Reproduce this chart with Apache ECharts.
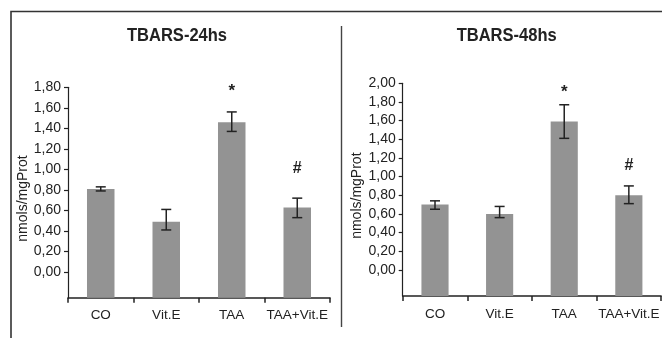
<!DOCTYPE html>
<html>
<head>
<meta charset="utf-8">
<script src="https://cdn.jsdelivr.net/npm/echarts@6/dist/echarts.min.js"></script>
<style>html,body{margin:0;padding:0;background:#fff}#c{width:662px;height:338px}</style>
</head>
<body>
<div id="c"></div>
<script>
// ---- data ----
const categories = ['CO', 'Vit.E', 'TAA', 'TAA+Vit.E'];
const yTicks24 = [0, 0.2, 0.4, 0.6, 0.8, 1.0, 1.2, 1.4, 1.6, 1.8];
const yTicks48 = [0, 0.2, 0.4, 0.6, 0.8, 1.0, 1.2, 1.4, 1.6, 1.8, 2.0];
const mean24 = [0.81, 0.49, 1.46, 0.63];
const errLow24 = [0.79, 0.41, 1.37, 0.53];
const errHigh24 = [0.83, 0.61, 1.56, 0.72];
const mean48 = [0.70, 0.60, 1.59, 0.80];
const errLow48 = [0.65, 0.56, 1.41, 0.71];
const errHigh48 = [0.74, 0.68, 1.77, 0.90];
const marks = ['', '', '*', '#'];
const titles = ['TBARS-24hs', 'TBARS-48hs'];
const yName = 'nmols/mgProt';

// ---- style ----
const ink = '#222';
const barColor = '#939393';
const fontFam = '"Liberation Sans", Arial, sans-serif';
const fmt = v => v.toFixed(2).replace('.', ',');

const panels = [
  {mean: mean24, lo: errLow24, hi: errHigh24, ticks: yTicks24, min: -0.25, max: 1.8,
   grid: {left: 68, right: 332, top: 87.3, bottom: 40.3}, titleX: 177, starOff: 21, hashOff: 30},
  {mean: mean48, lo: errLow48, hi: errHigh48, ticks: yTicks48, min: -0.28, max: 2.0,
   grid: {left: 402.7, right: -3.5, top: 83.3, bottom: 42}, titleX: 506.7, starOff: 12, hashOff: 20}
];

const chart = echarts.init(document.getElementById('c'), null, {renderer: 'canvas'});
const grid = [], xAxis = [], yAxis = [], series = [], graphic = [];

panels.forEach((p, k) => {
  grid.push(Object.assign({containLabel: false}, p.grid));
  graphic.push({type: 'text', x: p.titleX, y: 35.5, scaleX: 0.87, z: 10,
    style: {text: titles[k], fontFamily: fontFam, fontWeight: 'bold', fontSize: 19, fill: ink,
      align: 'center', verticalAlign: 'middle'}});
  xAxis.push({type: 'category', gridIndex: k, data: categories, boundaryGap: true,
    axisLine: {onZero: false, lineStyle: {color: ink, width: 1.5}},
    axisTick: {show: true, length: 5, interval: 0, lineStyle: {color: ink, width: 1.5}},
    axisLabel: {color: ink, fontSize: 13.5, fontFamily: fontFam, margin: 11, interval: 0}});
  yAxis.push({type: 'value', gridIndex: k, min: p.min, max: p.max,
    name: yName, nameLocation: 'middle', nameGap: 38,
    nameTextStyle: {color: ink, fontSize: 14, fontFamily: fontFam, padding: [0, 12, 0, 0]},
    splitLine: {show: false},
    axisLine: {show: true, lineStyle: {color: ink, width: 1.2}},
    axisTick: {show: true, length: 4, customValues: p.ticks, lineStyle: {color: ink, width: 1.2}},
    axisLabel: {color: ink, fontSize: 14, fontFamily: fontFam, margin: 7, customValues: p.ticks, formatter: fmt}});

  // bars (drawn from the bottom of the axis, as in the original)
  series.push({type: 'custom', xAxisIndex: k, yAxisIndex: k,
    data: categories.map((c, i) => [i, p.mean[i]]),
    renderItem: (params, api) => {
      const top = api.coord([api.value(0), api.value(1)]);
      const cs = params.coordSys;
      const w = api.size([1, 0])[0] * 0.42;
      return {type: 'rect', shape: {x: top[0] - w / 2, y: top[1], width: w, height: cs.y + cs.height - top[1]},
        style: {fill: barColor}};
    }, z: 2});
  // error bars
  series.push({type: 'custom', xAxisIndex: k, yAxisIndex: k,
    data: categories.map((c, i) => [i, p.lo[i], p.hi[i]]),
    renderItem: (params, api) => {
      const a = api.coord([api.value(0), api.value(1)]);
      const b = api.coord([api.value(0), api.value(2)]);
      const cw = 5;
      const st = {stroke: ink, lineWidth: 1.5};
      return {type: 'group', children: [
        {type: 'line', shape: {x1: a[0], y1: a[1], x2: b[0], y2: b[1]}, style: st},
        {type: 'line', shape: {x1: a[0] - cw, y1: a[1], x2: a[0] + cw, y2: a[1]}, style: st},
        {type: 'line', shape: {x1: b[0] - cw, y1: b[1], x2: b[0] + cw, y2: b[1]}, style: st}
      ]};
    }, z: 3});
  // significance marks
  series.push({type: 'custom', xAxisIndex: k, yAxisIndex: k,
    data: categories.map((c, i) => [i, p.hi[i]]),
    renderItem: (params, api) => {
      const m = marks[params.dataIndex];
      if (!m) return null;
      const b = api.coord([api.value(0), api.value(1)]);
      const off = m === '*' ? p.starOff : p.hashOff;
      return {type: 'text', x: b[0], y: b[1] - off,
        style: {text: m, fill: ink, fontSize: m === '*' ? 17 : 16, fontFamily: fontFam,
          fontWeight: 'bold', align: 'center', verticalAlign: 'middle'}};
    }, z: 4});
});

graphic.push(
  {type: 'polyline', shape: {points: [[11, 338], [11, 11.5], [662, 11.5]]}, style: {stroke: '#333', lineWidth: 1.6, fill: null}},
  {type: 'line', shape: {x1: 341.5, y1: 26, x2: 341.5, y2: 327}, style: {stroke: '#444', lineWidth: 1.4}}
);

chart.setOption({
  animation: false,
  grid, xAxis, yAxis, series, graphic
});
</script>
</body>
</html>
